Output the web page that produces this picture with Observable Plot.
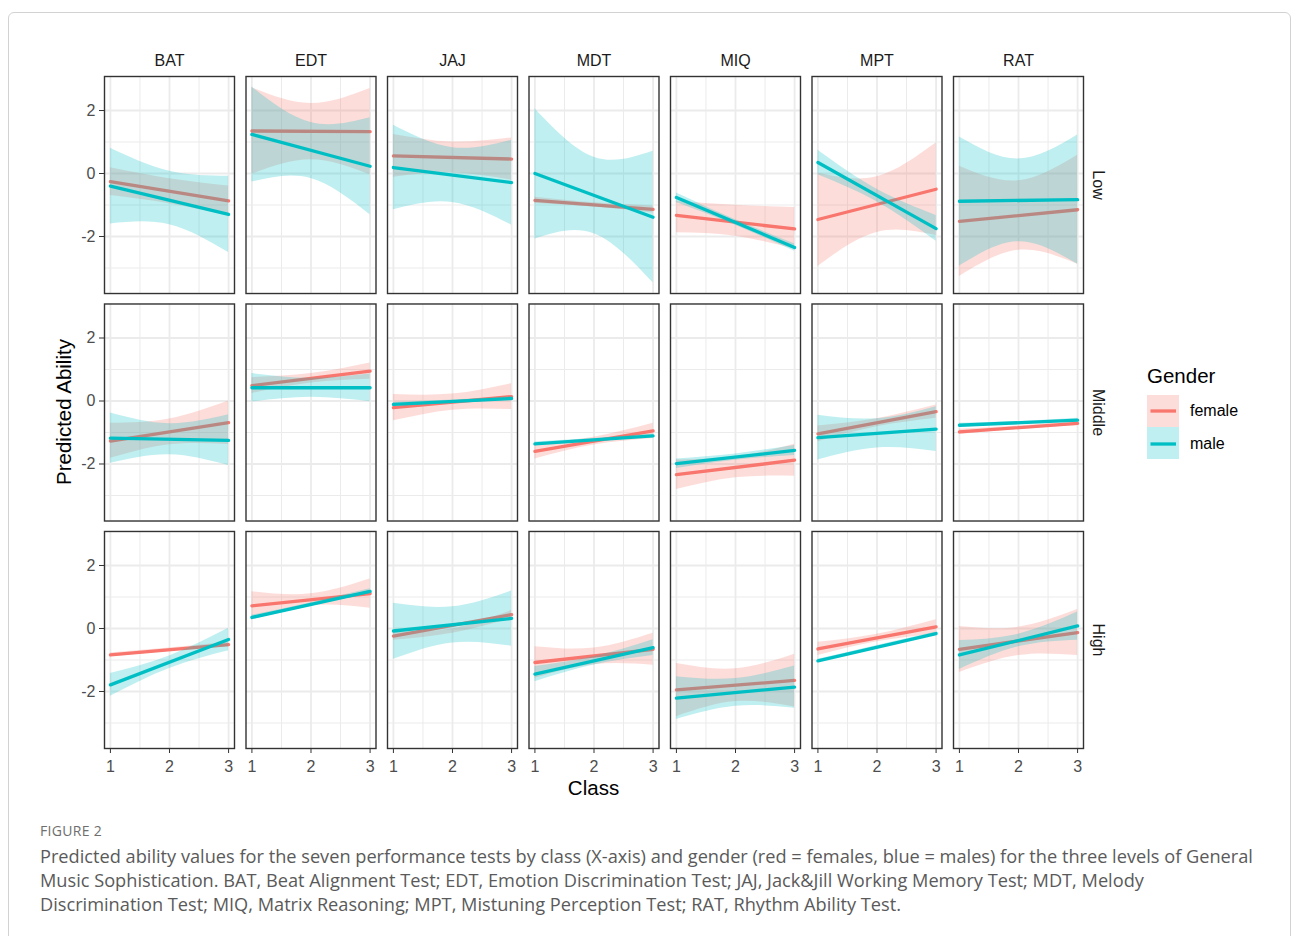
<!DOCTYPE html>
<html><head><meta charset="utf-8">
<script src="https://cdn.jsdelivr.net/npm/d3@7"></script>
<script src="https://cdn.jsdelivr.net/npm/@observablehq/plot@0.6"></script>
<style>
body{margin:0;background:#fff;width:1293px;height:936px;position:relative;overflow:hidden;font-family:"Liberation Sans",Arial,sans-serif;}
#frame{position:absolute;left:8px;top:12px;width:1281px;height:960px;border:1px solid #d2d2d2;border-radius:6px;}
#chart{position:absolute;left:0;top:0;}
.ytitle{position:absolute;left:64px;top:412px;transform:translate(-50%,-50%) rotate(-90deg);font-size:20.5px;color:#000;white-space:nowrap;}
.xtitle{position:absolute;left:593.5px;top:788px;transform:translate(-50%,-50%);font-size:20.5px;color:#000;white-space:nowrap;}
#legend{position:absolute;left:1140px;top:357px;}
#figlabel{position:absolute;left:40px;top:821px;font-family:"Open Sans",sans-serif;font-size:14px;color:#6e6e6e;letter-spacing:0.3px;}
#caption{position:absolute;left:40px;top:844px;font-family:"Open Sans",sans-serif;font-size:18.2px;line-height:24px;color:#5a5a5a;white-space:nowrap;}
</style>
</head><body>
<div id="frame"></div>
<div id="chart"></div>
<div class="ytitle">Predicted Ability</div>
<div class="xtitle">Class</div>
<svg id="legend" width="140" height="120" font-family="Liberation Sans, Arial, sans-serif">
  <text x="7" y="21" font-size="20.5" dominant-baseline="middle" fill="#000">Gender</text>
  <rect x="7" y="38" width="32" height="32" fill="#F8766D" fill-opacity="0.25"></rect>
  <line x1="10.5" x2="36" y1="54" y2="54" stroke="#F8766D" stroke-width="3.3"></line>
  <rect x="7" y="70" width="32" height="32" fill="#00BFC4" fill-opacity="0.25"></rect>
  <line x1="10.5" x2="36" y1="87" y2="87" stroke="#00BFC4" stroke-width="3.3"></line>
  <text x="50" y="55" font-size="16" dominant-baseline="middle" fill="#000">female</text>
  <text x="50" y="88" font-size="16" dominant-baseline="middle" fill="#000">male</text>
</svg>
<div id="figlabel">FIGURE 2</div>
<div id="caption">Predicted ability values for the seven performance tests by class (X-axis) and gender (red = females, blue = males) for the three levels of General<br>Music Sophistication. BAT, Beat Alignment Test; EDT, Emotion Discrimination Test; JAJ, Jack&amp;Jill Working Memory Test; MDT, Melody<br>Discrimination Test; MIQ, Matrix Reasoning; MPT, Mistuning Perception Test; RAT, Rhythm Ability Test.</div>
<script>
const tests = ["BAT","EDT","JAJ","MDT","MIQ","MPT","RAT"];
const levels = ["Low","Middle","High"];
const genders = ["female","male"];
const fitClasses = [1, 3];       // fitted line end points
const bandClasses = [1, 2, 3];   // confidence band read at these classes
const yTicks = [-2, 0, 2];
const yMinor = [-3, -1, 1];
const xTicks = [1, 2, 3];
const xMinor = [1.5, 2.5];

// ---- Low ----  (one entry per test, order = tests)
const lowFemaleFit = [[-0.26,-0.87],[1.35,1.33],[0.56,0.46],[-0.85,-1.14],[-1.33,-1.76],[-1.46,-0.50],[-1.52,-1.15]];
const lowFemaleLo  = [[-0.70,-0.96,-1.34],[-0.02,0.44,-0.04],[-0.12,0.02,-0.21],[-0.95,-1.06,-1.25],[-1.88,-1.99,-2.40],[-2.95,-1.87,-1.97],[-3.27,-2.44,-2.88]];
const lowFemaleHi  = [[0.18,-0.17,-0.40],[2.72,2.22,2.70],[1.24,1.00,1.13],[-0.75,-0.93,-1.03],[-0.88,-1.01,-1.08],[0.02,-0.10,0.97],[0.23,-0.23,0.58]];
const lowMaleFit   = [[-0.40,-1.30],[1.24,0.23],[0.19,-0.29],[0.00,-1.39],[-0.76,-2.35],[0.35,-1.75],[-0.88,-0.83]];
const lowMaleLo    = [[-1.60,-1.63,-2.51],[-0.27,-0.16,-1.31],[-1.15,-0.92,-1.64],[-2.08,-1.91,-3.47],[-0.92,-1.64,-2.47],[-0.04,-0.90,-2.15],[-2.94,-2.17,-2.88]];
const lowMaleHi    = [[0.80,0.07,-0.09],[2.75,1.62,1.77],[1.53,0.82,1.06],[2.06,0.52,0.71],[-0.62,-1.47,-2.23],[0.74,-0.50,-1.33],[1.16,0.46,1.22]];

// ---- Middle ----
const midFemaleFit = [[-1.27,-0.69],[0.49,0.95],[-0.21,0.14],[-1.60,-0.95],[-2.34,-1.88],[-1.04,-0.34],[-0.98,-0.71]];
const midFemaleLo  = [[-1.82,-1.39,-1.38],[0.24,0.57,0.69],[-0.63,-0.29,-0.27],[-1.84,-1.40,-1.19],[-2.81,-2.44,-2.39],[-1.29,-0.82,-0.55],[-1.06,-0.90,-0.78]];
const midFemaleHi  = [[-0.71,-0.57,0.00],[0.74,0.87,1.21],[0.21,0.22,0.55],[-1.36,-1.15,-0.71],[-1.87,-1.78,-1.37],[-0.79,-0.56,-0.13],[-0.90,-0.79,-0.64]];
const midMaleFit   = [[-1.18,-1.25],[0.42,0.42],[-0.11,0.08],[-1.36,-1.11],[-1.99,-1.57],[-1.16,-0.89],[-0.77,-0.61]];
const midMaleLo    = [[-1.98,-1.71,-2.05],[-0.03,0.12,-0.02],[-0.17,-0.06,0.02],[-1.42,-1.27,-1.17],[-2.14,-1.88,-1.73],[-1.87,-1.49,-1.60],[-0.83,-0.73,-0.67]];
const midMaleHi    = [[-0.38,-0.72,-0.44],[0.87,0.72,0.86],[-0.05,0.03,0.14],[-1.30,-1.19,-1.05],[-1.84,-1.68,-1.41],[-0.45,-0.56,-0.18],[-0.71,-0.65,-0.55]];

// ---- High ----
const highFemaleFit = [[-0.84,-0.51],[0.72,1.11],[-0.24,0.44],[-1.08,-0.66],[-1.95,-1.65],[-0.65,0.05],[-0.66,-0.13]];
const highFemaleLo  = [[-0.90,-0.72,-0.58],[0.27,0.72,0.64],[-0.37,-0.15,0.31],[-1.58,-1.15,-1.17],[-2.80,-2.32,-2.49],[-0.86,-0.42,-0.18],[-1.40,-0.86,-0.86]];
const highFemaleHi  = [[-0.78,-0.62,-0.44],[1.17,1.10,1.57],[-0.11,-0.01,0.57],[-0.58,-0.62,-0.15],[-1.11,-1.28,-0.82],[-0.44,-0.18,0.28],[0.06,0.04,0.60]];
const highMaleFit   = [[-1.79,-0.35],[0.35,1.18],[-0.08,0.32],[-1.45,-0.61],[-2.21,-1.86],[-1.03,-0.16],[-0.84,0.08]];
const highMaleLo    = [[-2.15,-1.27,-0.71],[0.28,0.71,1.10],[-0.98,-0.46,-0.56],[-1.69,-1.16,-0.86],[-2.89,-2.47,-2.53],[-1.08,-0.64,-0.21],[-1.30,-0.58,-0.37]];
const highMaleHi    = [[-1.43,-0.87,0.01],[0.42,0.82,1.26],[0.80,0.69,1.19],[-1.21,-0.90,-0.36],[-1.53,-1.59,-1.19],[-0.98,-0.54,-0.11],[-0.38,-0.18,0.52]];

const series = {
  Low:    {female: [lowFemaleFit, lowFemaleLo, lowFemaleHi],    male: [lowMaleFit, lowMaleLo, lowMaleHi]},
  Middle: {female: [midFemaleFit, midFemaleLo, midFemaleHi],    male: [midMaleFit, midMaleLo, midMaleHi]},
  High:   {female: [highFemaleFit, highFemaleLo, highFemaleHi], male: [highMaleFit, highMaleLo, highMaleHi]}
};

const bands = [], fits = [];
for (const level of levels) {
  for (const gender of genders) {
    const [fit, lo, hi] = series[level][gender];
    tests.forEach((test, ti) => {
      fitClasses.forEach((c, k) => fits.push({level, gender, test, x: c, y: fit[ti][k]}));
      bandClasses.forEach((c, k) => bands.push({level, gender, test, x: c, lo: lo[ti][k], hi: hi[ti][k]}));
    });
  }
}
const bandOf = g => bands.filter(d => d.gender === g);
const fitOf = g => fits.filter(d => d.gender === g);

const ribbon = g => Plot.areaY(bandOf(g), {x: "x", y1: "lo", y2: "hi", fx: "test", fy: "level", fill: "gender", fillOpacity: 0.25, curve: "natural"});
const fitLine = g => Plot.line(fitOf(g), {x: "x", y: "y", fx: "test", fy: "level", stroke: "gender", strokeWidth: 3.3});

const chart = Plot.plot({
  width: 1293, height: 810,
  marginTop: 76, marginLeft: 104, marginRight: 210, marginBottom: 62,
  fx: {domain: tests, paddingInner: 0.0813, paddingOuter: 0, round: false, axis: null, label: null},
  fy: {domain: levels, paddingInner: 0.046, paddingOuter: 0, round: false, axis: null, label: null},
  x: {domain: [0.9, 3.1], axis: null},
  y: {domain: [-3.81, 3.08], axis: null},
  color: {domain: genders, range: ["#F8766D", "#00BFC4"]},
  style: {fontFamily: "Liberation Sans, Arial, sans-serif", fontSize: "16px", background: "transparent", overflow: "visible"},
  marks: [
    Plot.ruleY(yMinor, {stroke: "#EBEBEB", strokeWidth: 1}),
    Plot.ruleX(xMinor, {stroke: "#EBEBEB", strokeWidth: 1}),
    Plot.ruleY(yTicks, {stroke: "#EBEBEB", strokeWidth: 1.8}),
    Plot.ruleX(xTicks, {stroke: "#EBEBEB", strokeWidth: 1.8}),
    ribbon("female"), fitLine("female"),
    ribbon("male"), fitLine("male"),
    Plot.frame({stroke: "#333333", strokeWidth: 1.4}),
    Plot.axisX({ticks: xTicks, tickSize: 5, tickPadding: 7, fontSize: 16, fill: "#4D4D4D", stroke: "#333333", label: null, tickFormat: d => String(d)}),
    Plot.axisY({ticks: yTicks, tickSize: 5, tickPadding: 4, fontSize: 16, fill: "#4D4D4D", stroke: "#333333", label: null, tickFormat: d => String(d)}),
    Plot.axisFx({anchor: "top", tickSize: 0, tickPadding: 11, fontSize: 16, fill: "#1A1A1A", label: null}),
    Plot.text(levels, {fx: () => "RAT", fy: d => d, text: d => d, frameAnchor: "right", textAnchor: "middle", dx: 15, rotate: 90, fontSize: 16, fill: "#1A1A1A"})
  ]
});
document.getElementById("chart").appendChild(chart);
</script>
</body></html>
